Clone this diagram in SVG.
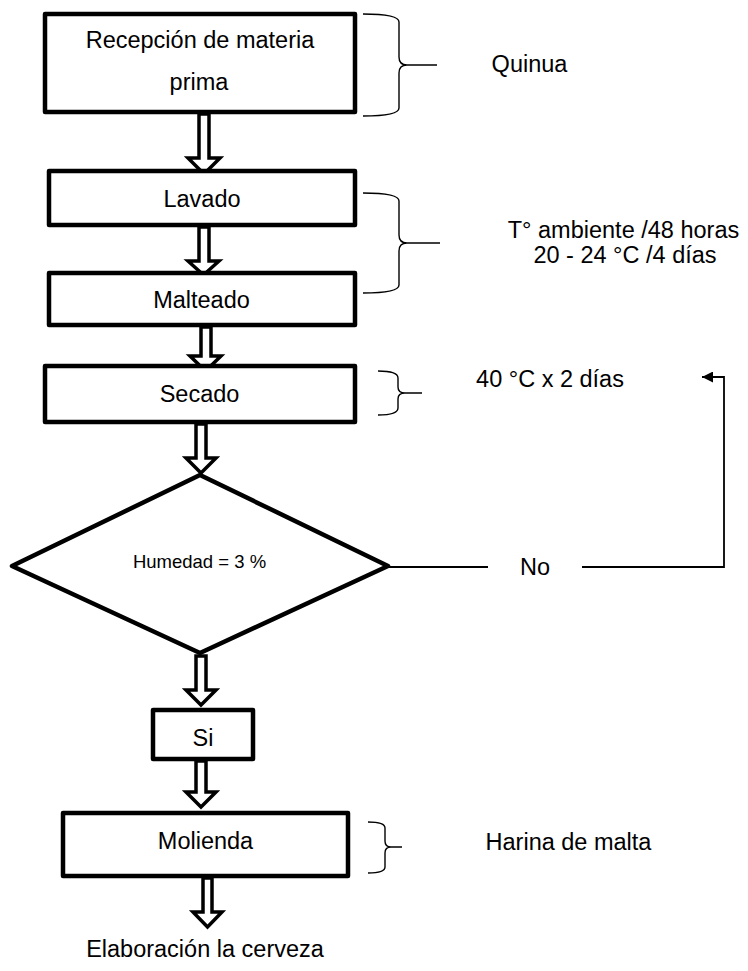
<svg xmlns="http://www.w3.org/2000/svg" width="748" height="971" viewBox="0 0 748 971">
<style>
text{font-family:"Liberation Sans",Arial,sans-serif;fill:#000;font-size:23.5px}
.box{fill:#fff;stroke:#000;stroke-width:4.5;stroke-linejoin:round}
.blk{fill:#fff;stroke:#000;stroke-width:3.5;stroke-linejoin:miter}
.brace{fill:none;stroke:#000;stroke-width:1.4}
.line{fill:none;stroke:#000;stroke-width:1.8}
.sm{font-size:18.5px}
</style>
<defs>
<marker id="ah" viewBox="0 0 10 10" refX="10" refY="5" markerWidth="14" markerHeight="11" markerUnits="userSpaceOnUse" orient="auto">
<path d="M0,0 L10,5 L0,10 Z" fill="#000"/>
</marker>
</defs>
<rect width="748" height="971" fill="#fff"/>

<g id="connectors">
<polygon class="blk" points="199,114 209,114 209,158 220,158 204,174 188,158 199,158"/>
<polygon class="blk" points="199,227 209,227 209,261 219,261 203.5,275 188,261 199,261"/>
<polygon class="blk" points="201,327 211,327 211,356 221,356 205.5,371 190,356 201,356"/>
<polygon class="blk" points="196,424 206,424 206,458 216,458 201,473 186,458 196,458"/>
<polygon class="blk" points="196,656 206,656 206,690 216,690 201,705 186,690 196,690"/>
<polygon class="blk" points="196,761 206,761 206,792 216,792 201,807 186,792 196,792"/>
<polygon class="blk" points="203,878 212,878 212,912 222,912 207.5,927 193,912 203,912"/>
<path class="line" d="M388,567 L488,567"/>
<path class="line" d="M582,567 L724,567 L724,377 L702,377" marker-end="url(#ah)"/>
</g>

<g id="n-recepcion">
<rect class="box" x="45" y="14" width="310" height="98"/>
<text x="200" y="48" text-anchor="middle">Recepción de materia</text>
<text x="199" y="90" text-anchor="middle">prima</text>
</g>
<g id="n-lavado">
<rect class="box" x="49" y="171" width="306" height="54"/>
<text x="202" y="207" text-anchor="middle">Lavado</text>
</g>
<g id="n-malteado">
<rect class="box" x="49" y="273" width="306" height="52"/>
<text x="201.5" y="308" text-anchor="middle">Malteado</text>
</g>
<g id="n-secado">
<rect class="box" x="45" y="366" width="310" height="56"/>
<text x="199.5" y="402" text-anchor="middle">Secado</text>
</g>
<g id="n-humedad">
<polygon class="box" points="200,475 388,566 200,653 12,566"/>
<text class="sm" x="199.5" y="568" text-anchor="middle">Humedad = 3 %</text>
</g>
<g id="n-si">
<rect class="box" x="153" y="710" width="100" height="49"/>
<text x="203" y="746" text-anchor="middle">Si</text>
</g>
<g id="n-molienda">
<rect class="box" x="63" y="813" width="285" height="63"/>
<text x="205.5" y="849" text-anchor="middle">Molienda</text>
</g>

<g id="braces">
<path class="brace" d="M363,14 Q399,14 399,22 L399,57 Q399,65 407,65 L437,65 M407,65 Q399,65 399,73 L399,108 Q399,116 363,116"/>
<path class="brace" d="M363,193 Q399,193 399,201 L399,235 Q399,243 407,243 L440,243 M407,243 Q399,243 399,251 L399,285 Q399,293 363,293"/>
<path class="brace" d="M378,371 Q398,371 398,378 L398,387 Q398,393 405,393 L422,393 M405,393 Q398,393 398,399 L398,408 Q398,415 378,415"/>
<path class="brace" d="M368,822 Q385,822 385,828 L385,841 Q385,847 391,847 L402,847 M391,847 Q385,847 385,853 L385,867 Q385,873 368,873"/>
</g>

<g id="labels">
<text x="529.5" y="72" text-anchor="middle">Quinua</text>
<text x="623.5" y="238" text-anchor="middle">T° ambiente /48 horas</text>
<text x="625" y="263" text-anchor="middle">20 - 24 °C /4 días</text>
<text x="550" y="387" text-anchor="middle">40 °C x 2 días</text>
<text x="535" y="575" text-anchor="middle">No</text>
<text x="568.5" y="850" text-anchor="middle">Harina de malta</text>
<text x="205" y="957" text-anchor="middle">Elaboración la cerveza</text>
</g>
</svg>
